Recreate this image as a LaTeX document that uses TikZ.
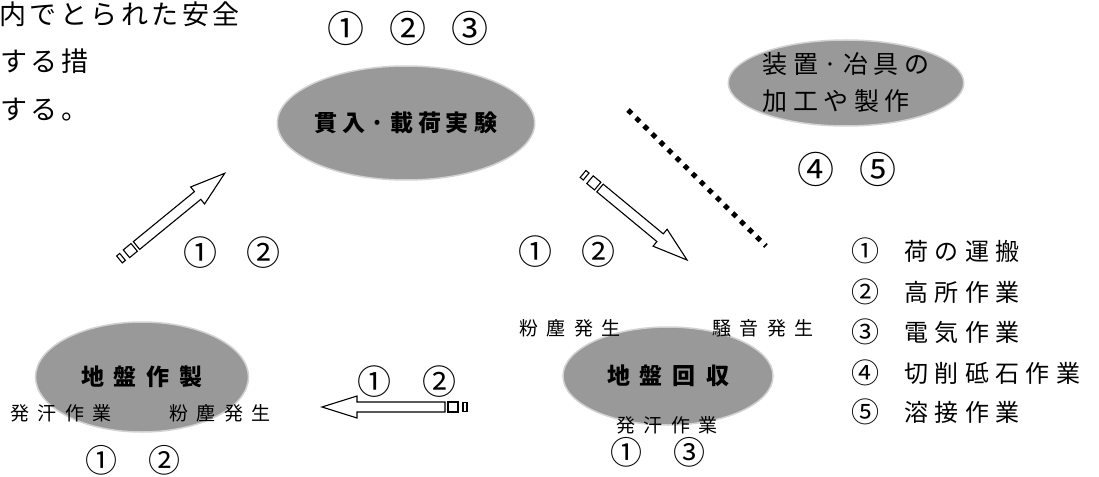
\documentclass[tikz,border=0pt]{standalone}
\usepackage{fontspec}
\setmainfont{Noto Sans CJK JP}
\usetikzlibrary{shapes.geometric}
\definecolor{ellfill}{RGB}{153,153,153}
\definecolor{ellline}{RGB}{210,210,210}
\def\rsSp#1#2{\def\rsGap{\hspace{#1}}\rsSpAux#2\relax\unskip}
\def\rsSpAux#1{\ifx\relax#1\else#1\rsGap\expandafter\rsSpAux\fi}
\newcommand\rsFont[1]{\fontsize{#1}{#1}\selectfont}
\newcommand\rsArrow[1]{%
  \draw[barrow] (0,-5) -- ({#1-35},-5) -- ({#1-35},-11) -- (#1,0) -- ({#1-35},11) -- ({#1-35},5) -- (0,5) -- cycle;
  \draw[barrow] (-13,-5) rectangle (-3,5);
  \draw[barrow] (-22,-4.5) rectangle (-18,4.5);
}
\begin{document}
\begin{tikzpicture}[x=1pt,y=-1pt,
  ell/.style={ellipse, fill=ellfill, draw=ellline, line width=1.5pt, inner sep=0pt, text=black},
  num/.style={inner sep=0pt},
  lbl/.style={inner sep=0pt, font=\rsFont{19}},
  leg/.style={inner sep=0pt, anchor=west, font=\rsFont{24}},
  legnum/.style={inner sep=0pt, anchor=west, font=\rsFont{28}},
  bgtext/.style={inner sep=0pt, anchor=west, font=\rsFont{27}},
  barrow/.style={draw=black, fill=white, line width=1.1pt, line join=miter},
  dots/.style={line width=5pt, dash pattern=on 5pt off 6.3pt}
]
\useasboundingbox (0,0) rectangle (1099,476);

% background text
\node[bgtext] (t1) at (-1,14) {\rsSp{3.5pt}{内でとられた安全}};
\node[bgtext] (t2) at (0,61) {\rsSp{3.5pt}{する措}};
\node[bgtext] (t3) at (0,110) {\rsSp{3.5pt}{する。}};

% ellipses
\node[ell, minimum width=218pt, minimum height=114pt, font=\rsFont{23}\bfseries] (e1) at (406,123) {\rsSp{5pt}{貫入·載荷実験}};
\node[ell, minimum width=215pt, minimum height=86pt, align=left, font=\fontsize{25}{37}\selectfont] (e2) at (846,83) {\rsSp{5.5pt}{装置·冶具の}\\\rsSp{5.5pt}{加工や製作}};
\node[ell, minimum width=213pt, minimum height=110pt, font=\rsFont{23}\bfseries] (e3) at (142,377) {\rsSp{10pt}{地盤作製}};
\node[ell, minimum width=210pt, minimum height=98pt, font=\rsFont{23}\bfseries] (e4) at (668,376) {\rsSp{10pt}{地盤回収}};

% circled number groups
\node[num, font=\rsFont{37}] (n1) at (408,28) {①\hspace{25pt}②\hspace{25pt}③};
\node[num, font=\rsFont{37}] (n2) at (847,169) {④\hspace{26pt}⑤};
\node[num, font=\rsFont{34}] (n3) at (232,253) {①\hspace{30pt}②};
\node[num, font=\rsFont{34}] (n4) at (567,252) {①\hspace{30pt}②};
\node[num, font=\rsFont{34}] (n5) at (407,382) {①\hspace{31pt}②};
\node[num, font=\rsFont{32}] (n6) at (133,460) {①\hspace{31pt}②};
\node[num, font=\rsFont{32}] (n7) at (658,452) {①\hspace{31pt}③};

% small labels
\node[lbl] (l1) at (61,413) {\rsSp{8.5pt}{発汗作業}};
\node[lbl] (l2) at (220,413) {\rsSp{8.5pt}{粉塵発生}};
\node[lbl] (l3) at (570,328) {\rsSp{8.5pt}{粉塵発生}};
\node[lbl] (l4) at (763,328) {\rsSp{8.5pt}{騒音発生}};
\node[lbl] (l5) at (667,425) {\rsSp{8.5pt}{発汗作業}};

% legend
\node[legnum] (g1n) at (851,251) {①};
\node[legnum] (g2n) at (851,292) {②};
\node[legnum] (g3n) at (851,332) {③};
\node[legnum] (g4n) at (851,373) {④};
\node[legnum] (g5n) at (851,412) {⑤};
\node[leg] (g1) at (904,251) {\rsSp{6.4pt}{荷の運搬}};
\node[leg] (g2) at (904,292) {\rsSp{6.4pt}{高所作業}};
\node[leg] (g3) at (904,332) {\rsSp{6.4pt}{電気作業}};
\node[leg] (g4) at (904,373) {\rsSp{6.4pt}{切削砥石作業}};
\node[leg] (g5) at (904,412) {\rsSp{6.4pt}{溶接作業}};

% dotted separator
\coordinate (d1) at (628,110);
\coordinate (d2) at (766,246);
\draw[dots] (d1) -- (d2);

% block arrows
\coordinate (a1s) at (136.5,245.5);
\coordinate (a2s) at (600,188);
\coordinate (a3s) at (445,407);
\begin{scope}[shift={(a1s)}, rotate=39.3]\rsArrow{114}\end{scope}
\begin{scope}[shift={(a2s)}, rotate=-39.6]\rsArrow{113}\end{scope}
\begin{scope}[shift={(a3s)}, rotate=180]\rsArrow{123}\end{scope}
\end{tikzpicture}
\end{document}
